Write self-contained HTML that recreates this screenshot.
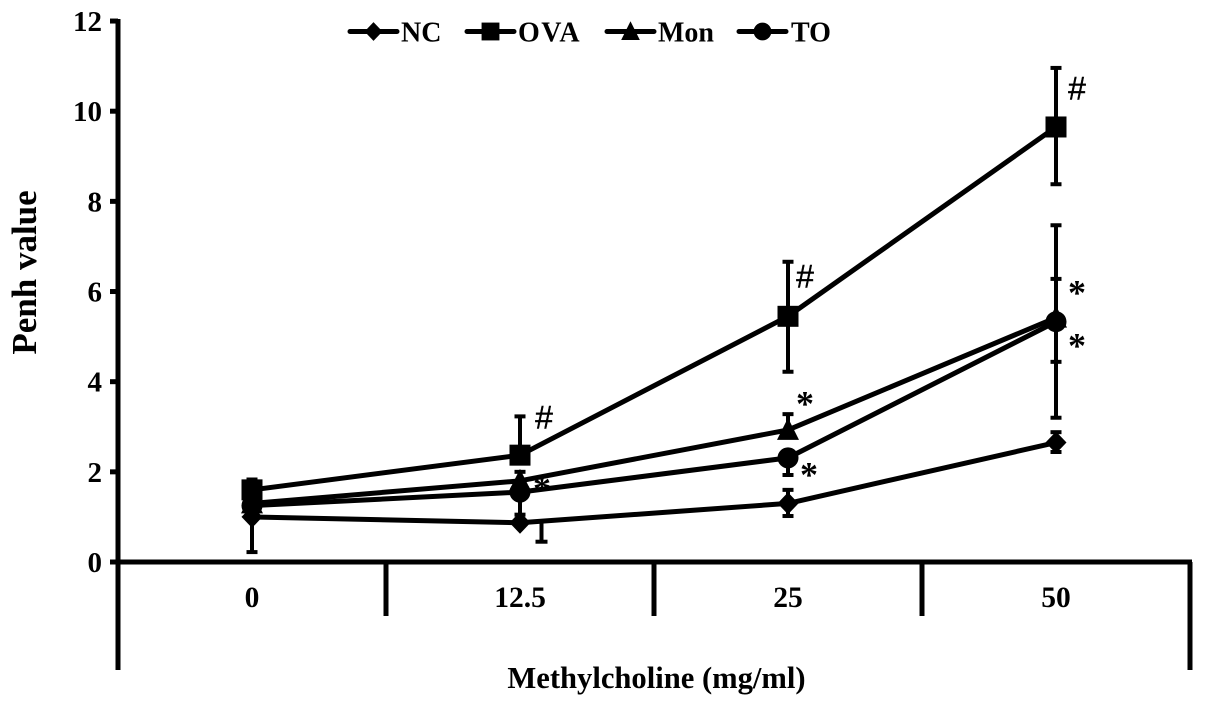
<!DOCTYPE html>
<html lang="en">
<head>
<meta charset="utf-8">
<title>Penh value vs Methylcholine</title>
<style>
html,body{margin:0;padding:0;background:#fff;}
svg{display:block;}
text{font-family:"Liberation Serif",serif;font-weight:bold;fill:#000;}
text.hash{font-family:"Liberation Sans",sans-serif;font-weight:normal;stroke:#000;stroke-width:0.4;}
</style>
</head>
<body>
<svg id="chart" xmlns="http://www.w3.org/2000/svg" width="1205" height="707" viewBox="0 0 1205 707">
<text transform="translate(36 272.500) rotate(-90)" text-anchor="middle" font-size="35">Penh value</text>
<text x="656.500" y="688" text-anchor="middle" font-size="30.600">Methylcholine (mg/ml)</text>
<g>
<text class="hash" x="544" y="428.500" text-anchor="middle" font-size="32">#</text>
<text class="hash" x="805" y="287.500" text-anchor="middle" font-size="32">#</text>
<text class="hash" x="1077" y="99.500" text-anchor="middle" font-size="32">#</text>
<text x="542" y="500.500" text-anchor="middle" font-size="36">*</text>
<text x="805" y="415.500" text-anchor="middle" font-size="36">*</text>
<text x="809" y="486.500" text-anchor="middle" font-size="36">*</text>
<text x="1077" y="304.500" text-anchor="middle" font-size="36">*</text>
<text x="1077" y="357.500" text-anchor="middle" font-size="36">*</text>
</g>
</svg>
<script>
const categories = ['0', '12.5', '25', '50'];
const yTicks = [0, 2, 4, 6, 8, 10, 12];
const ncValues = [1.0, 0.87, 1.3, 2.65];
const ovaValues = [1.6, 2.37, 5.45, 9.65];
const monValues = [1.3, 1.8, 2.93, 5.42];
const toValues = [1.25, 1.55, 2.31, 5.33];
const ncUpper = [1.0, 0.87, 1.6, 2.88];
const ncLower = [0.22, 0.87, 1.02, 2.44];
const ovaUpper = [1.83, 3.23, 6.66, 10.96];
const ovaLower = [1.6, 2.37, 4.22, 8.38];
const monUpper = [1.3, 2.0, 3.28, 6.28];
const monLower = [1.3, 1.8, 2.93, 4.44];
const toUpper = [1.25, 1.55, 2.31, 7.47];
const toLower = [1.25, 1.05, 1.93, 3.2];
const ncOffsetBar = [0.87, 0.45];
const seriesNames = ['NC', 'OVA', 'Mon', 'TO'];

const NS = 'http://www.w3.org/2000/svg';
const svg = document.getElementById('chart');
const xAt = i => 252 + i * 268;
const yAt = v => 562 - v * 45.08;

function make(tag, attrs, parent) {
  const el = document.createElementNS(NS, tag);
  for (const k in attrs) el.setAttribute(k, attrs[k]);
  (parent || svg).appendChild(el);
  return el;
}
function line(x1, y1, x2, y2, w) {
  return make('line', {x1: x1, y1: y1, x2: x2, y2: y2, stroke: '#000', 'stroke-width': w});
}
function marker(kind, cx, cy, s) {
  if (kind === 'NC') {
    return make('polygon', {points: [cx-10.500*s,cy, cx,cy-11*s, cx+10.500*s,cy, cx,cy+11*s].join(','), fill: '#000'});
  }
  if (kind === 'OVA') {
    return make('rect', {x: cx-10.500*s, y: cy-10.500*s, width: 21*s, height: 21*s, fill: '#000'});
  }
  if (kind === 'Mon') {
    return make('polygon', {points: [cx,cy-12*s, cx+11*s,cy+10*s, cx-11*s,cy+10*s].join(','), fill: '#000'});
  }
  return make('circle', {cx: cx, cy: cy, r: 10.500*s, fill: '#000'});
}

/* axes */
const yAxis = line(118, 19, 118, 670, 5);


const xAxis = line(110, 562, 1192, 562, 5);


const rightEdge = line(1190, 562, 1190, 670, 5);



yTicks.forEach(v => {
  const y = yAt(v);
  const tick = line(110, y, 118, y, 5);
  
  
  const label = make('text', {x: 102, y: y + 10, 'text-anchor': 'end', 'font-size': 29});
  label.textContent = v;
  
  
});

categories.forEach((c, i) => {
  if (i < categories.length - 1) {
    const sep = line(xAt(i) + 134, 562, xAt(i) + 134, 616, 5);
    
    
  }
  const label = make('text', {x: xAt(i), y: 607, 'text-anchor': 'middle', 'font-size': 29.500});
  label.textContent = c;
  
  
});

/* series */
const allSeries = [
  ['NC', ncValues, ncUpper, ncLower],
  ['OVA', ovaValues, ovaUpper, ovaLower],
  ['Mon', monValues, monUpper, monLower],
  ['TO', toValues, toUpper, toLower]
];

allSeries.forEach(s => {
  s[1].forEach((v, i) => {
    if (s[2][i] === s[3][i]) return;
    const x = xAt(i);
    const bar = line(x, yAt(s[2][i]), x, yAt(s[3][i]), 4);
    
    
    if (s[2][i] !== v) {
      const capTop = line(x - 5.500, yAt(s[2][i]), x + 5.500, yAt(s[2][i]), 4);
      
      
    }
    if (s[3][i] !== v) {
      const capLow = line(x - 5.500, yAt(s[3][i]), x + 5.500, yAt(s[3][i]), 4);
      
      
    }
  });
});

const offsetBar = line(541.500, yAt(ncOffsetBar[0]), 541.500, yAt(ncOffsetBar[1]), 4);


const offsetCap = line(535.500, yAt(ncOffsetBar[1]), 547.500, yAt(ncOffsetBar[1]), 4);



allSeries.forEach(s => {
  const pts = s[1].map((v, i) => xAt(i) + ',' + yAt(v)).join(' ');
  const path = make('polyline', {points: pts, fill: 'none', stroke: '#000', 'stroke-width': 5, 'stroke-linejoin': 'round'});
  
  
  s[1].forEach((v, i) => {
    const m = marker(s[0], xAt(i), yAt(v), 1);
    
    
  });
});

/* legend */
const legendLineStart = [350, 467, 607, 739];
const legendTextX = [401, 518, 658, 791];
const legendSpacing = [0, 1.5, 0, 0];
seriesNames.forEach((n, i) => {
  const g = make('g', {});
  
  
  const x0 = legendLineStart[i];
  make('line', {x1: x0, y1: 31.500, x2: x0 + 47, y2: 31.500, stroke: '#000', 'stroke-width': 5, 'stroke-linecap': 'round'}, g);
  g.appendChild(marker(n, x0 + 23.500, 31.500, 0.85));
  const t = make('text', {x: legendTextX[i], y: 41.500, 'font-size': 28, 'letter-spacing': legendSpacing[i]}, g);
  t.textContent = n;
});
</script>
</body>
</html>
